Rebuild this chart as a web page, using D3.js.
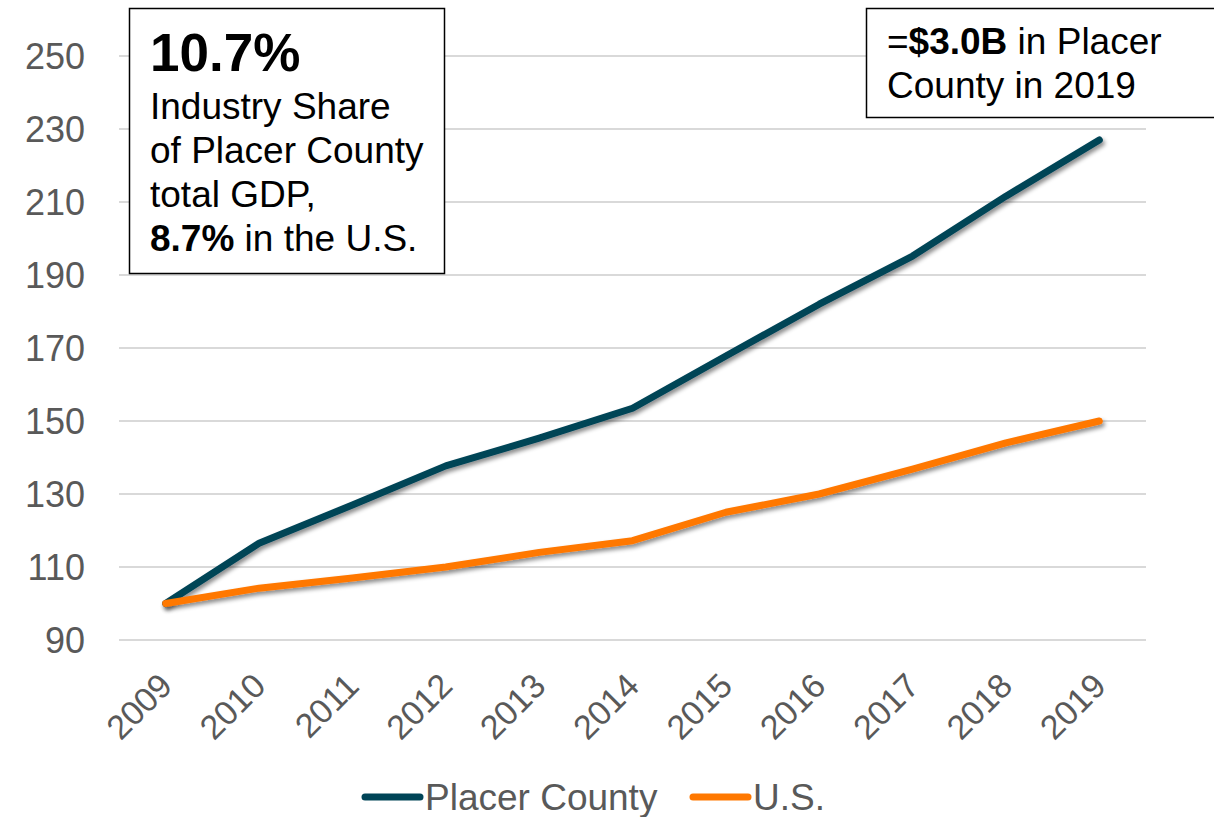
<!DOCTYPE html>
<html lang="en">
<head>
<meta charset="UTF-8">
<title>Placer County vs U.S. GDP index</title>
<script src="https://d3js.org/d3.v7.min.js"></script>
<style>
    body { margin: 0; background: #fff; }
    svg { font-family: "Liberation Sans", Arial, sans-serif; }
</style>
</head>
<body>
<div id="chart"></div>
<script>
    // index values (2009 = 100)
    const years = ['2009', '2010', '2011', '2012', '2013', '2014', '2015', '2016', '2017', '2018', '2019'];
    const placerValues = [100, 116.5, 127, 137.7, 145.3, 153.5, 167.8, 182, 195.2, 211.6, 227];
    const usValues = [100, 104.2, 107, 110, 114, 117.2, 125, 130, 136.8, 144, 150];
    const yTicks = [90, 110, 130, 150, 170, 190, 210, 230, 250];
    const seriesNames = ['Placer County', 'U.S.'];
    const seriesColors = ['#004457', '#ff7800'];

    const width = 1214, height = 817;

    const svg = d3.select('#chart')
        .append('svg')
        .attr('width', width)
        .attr('height', height);

    // drop shadow under the lines
    const defs = svg.append('defs');
    defs.append('filter')
        .attr('id', 'shadow')
        .attr('x', '-10%').attr('y', '-10%')
        .attr('width', '120%').attr('height', '130%')
        .append('feDropShadow')
        .attr('dx', 2).attr('dy', 3)
        .attr('stdDeviation', 2)
        .attr('flood-color', '#000')
        .attr('flood-opacity', 0.45);

    const x = d3.scalePoint()
        .domain(years)
        .range([119, 1146])
        .padding(0.5);

    const y = d3.scaleLinear()
        .domain([90, 250])
        .range([640, 56]);

    // gridlines
    svg.append('g')
        .attr('class', 'grid')
        .selectAll('line')
        .data(yTicks)
        .enter()
        .append('line')
        .attr('x1', 119)
        .attr('x2', 1146)
        .attr('y1', d => y(d))
        .attr('y2', d => y(d))
        .attr('stroke', '#d9d9d9')
        .attr('stroke-width', 2);

    // y axis labels
    const yAxis = svg.append('g')
        .attr('transform', 'translate(95,0)')
        .call(d3.axisLeft(y).tickValues(yTicks).tickSize(0).tickPadding(10));
    yAxis.select('.domain').remove();
    yAxis.selectAll('text')
        .attr('font-size', 36)
        .attr('font-family', '"Liberation Sans", Arial, sans-serif')
        .attr('fill', '#595959')
        .attr('dy', '0.36em');

    // x axis labels, rotated
    const xAxis = svg.append('g')
        .attr('transform', 'translate(0,640)')
        .call(d3.axisBottom(x).tickSize(0));
    xAxis.select('.domain').remove();
    xAxis.selectAll('text')
        .attr('font-size', 34)
        .attr('font-family', '"Liberation Sans", Arial, sans-serif')
        .attr('fill', '#595959')
        .attr('text-anchor', 'end')
        .attr('x', 0).attr('y', 0).attr('dy', 0)
        .attr('transform', 'translate(8,48) rotate(-45)');

    // lines
    const line = d3.line()
        .x((d, i) => x(years[i]))
        .y(d => y(d));

    svg.append('g')
        .selectAll('path')
        .data([placerValues, usValues])
        .enter()
        .append('path')
        .attr('d', line)
        .attr('fill', 'none')
        .attr('stroke', (d, i) => seriesColors[i])
        .attr('stroke-width', 7)
        .attr('stroke-linecap', 'round')
        .attr('stroke-linejoin', 'round')
        .attr('filter', 'url(#shadow)');

    // legend
    const legendX = [365, 693];
    const legend = svg.append('g')
        .selectAll('g')
        .data(seriesNames)
        .enter()
        .append('g')
        .attr('transform', (d, i) => `translate(${legendX[i]},797)`);
    legend.append('line')
        .attr('x1', 0).attr('x2', 55)
        .attr('stroke', (d, i) => seriesColors[i])
        .attr('stroke-width', 7)
        .attr('stroke-linecap', 'round');
    legend.append('text')
        .attr('x', 60)
        .attr('dy', '0.36em')
        .attr('font-size', 37)
        .attr('fill', '#595959')
        .text(d => d);

    // annotation box, top left
    const box1 = svg.append('g');
    box1.append('rect')
        .attr('x', 129.5).attr('y', 8.5)
        .attr('width', 315).attr('height', 265)
        .attr('fill', '#fff')
        .attr('stroke', '#000')
        .attr('stroke-width', 1.5);
    box1.append('text')
        .attr('x', 150).attr('y', 71)
        .attr('font-size', 53)
        .attr('font-weight', 'bold')
        .text('10.7%');
    const box1Lines = ['Industry Share', 'of Placer County', 'total GDP,'];
    box1.selectAll('.box1-line')
        .data(box1Lines)
        .enter()
        .append('text')
        .attr('class', 'box1-line')
        .attr('x', 150)
        .attr('y', (d, i) => 119 + i * 44)
        .attr('font-size', 37)
        .text(d => d);
    const lastLine = box1.append('text')
        .attr('x', 150).attr('y', 251)
        .attr('font-size', 37);
    lastLine.append('tspan').attr('font-weight', 'bold').text('8.7%');
    lastLine.append('tspan').text(' in the U.S.');

    // annotation box, top right
    const box2 = svg.append('g');
    box2.append('rect')
        .attr('x', 866.5).attr('y', 8.5)
        .attr('width', 360).attr('height', 109)
        .attr('fill', '#fff')
        .attr('stroke', '#000')
        .attr('stroke-width', 1.5);
    const b2first = box2.append('text')
        .attr('x', 887).attr('y', 54)
        .attr('font-size', 37);
    b2first.append('tspan').text('=');
    b2first.append('tspan').attr('font-weight', 'bold').text('$3.0B');
    b2first.append('tspan').text(' in Placer');
    box2.append('text')
        .attr('x', 887).attr('y', 98)
        .attr('font-size', 37)
        .text('County in 2019');
</script>
</body>
</html>
